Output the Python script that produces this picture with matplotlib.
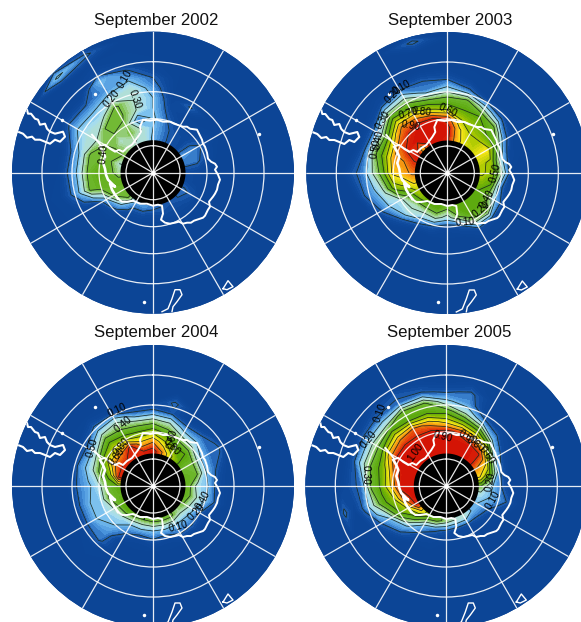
import numpy as np
import matplotlib
matplotlib.use('Agg')
import matplotlib.pyplot as plt
from matplotlib.colors import LinearSegmentedColormap

plt.rcParams['font.family'] = ['Liberation Sans', 'DejaVu Sans']

W, H = 581, 622
RMAX = 141

# azimuth clockwise from the top of each map, one row of values per azimuth
azimuths = np.arange(0, 360, 15)
radii = [35, 45, 55, 65, 75, 85, 95, 105, 115, 125, 135]

field_2002 = [
    [.18, .20, .22, .20, .20, .15, .10, .03],
    [.12, .12, .10, .06, .02],
    [.08, .07, .03, 0, .11],
    [.05, .05, .03],
    [.15, .14, .10, .03],
    [.12, .12, .06],
    [.05, .03],
    [.05, .03],
    [.12, .08],
    [.10, .05],
    [.08, .05],
    [.10, .05],
    [.12, .03],
    [.15, .05],
    [.15, .06],
    [.40, .20, .05],
    [.42, .42, .15],
    [.45, .45, .45, .42, .22, .10, .02],
    [.35, .45, .48, .42, .22, .11],
    [.30, .42, .42, .42, .22, .10],
    [.40, .42, .40, .30, .28, .22, .12, .02],
    [.35, .30, .40, .42, .25, .20, .10, 0, 0, 0, .22],
    [.30, .40, .38, .42, .42, .25, .15, .20, .05, 0, .12],
    [.30, .30, .12, .30, .30, .30, .20, .11, .02],
]
field_2003 = [
    [.93, .95, .85, .55, .42, .22, .08],
    [.75, .72, .60, .50, .42, .12, .02],
    [.65, .60, .55, .50, .25],
    [.62, .60, .50, .42, .12],
    [.68, .70, .45, .15, .02],
    [.62, .58, .25, .03],
    [.62, .55, .30],
    [.55, .50, .12],
    [.50, .42, .20, .03],
    [.50, .48, .40, .03],
    [.50, .50, .35, .05],
    [.50, .40, .08],
    [.42, .25, .03],
    [.50, .35, .10],
    [.50, .32, .15],
    [.55, .32, .28, .10],
    [.60, .42, .25, .22, .11],
    [.72, .62, .55, .32, .18, .11],
    [.82, .76, .72, .45, .30, .13, .08],
    [.88, .80, .78, .55, .38, .11],
    [.95, .92, .84, .60, .32, .10],
    [.75, .95, .90, .80, .55, .30, .05],
    [.95, .95, .95, .76, .50, .32, .11],
    [.95, .95, .95, .62, .42, .14, .10, 0, 0, 0, .12],
]
field_2004 = [
    [.95, .78, .55, .35, .12],
    [.80, .62, .45, .30, .08, .12],
    [.62, .50, .35, .15],
    [.52, .50, .30, .15, .05],
    [.42, .42, .20, .12, .12],
    [.45, .42, .20, .10, .02],
    [.45, .25, .20, .05],
    [.45, .30, .20, .08],
    [.40, .24, .08],
    [.35, .20, .10],
    [.42, .20, .10],
    [.42, .20, .03],
    [.42, .20, .08],
    [.40, .20, .03],
    [.42, .20, .10],
    [.48, .25, .20, .15, .12, .02],
    [.50, .30, .22, .20, .11],
    [.45, .42, .22, .20, .11],
    [.50, .42, .25, .18, .12],
    [.92, .55, .42, .25, .15],
    [.92, .78, .55, .30, .12, .02],
    [.92, .80, .60, .45, .25, .08],
    [.92, .92, .55, .40, .28, .03],
    [.92, .72, .52, .35, .12],
]
field_2005 = [
    [.95, .95, .92, .65, .45, .22, .08],
    [.95, .95, .88, .55, .30, .15, .12, .03],
    [.95, .95, .78, .45, .12],
    [.93, .92, .65, .20, .05],
    [.80, .72, .25, .05],
    [.70, .50, .12],
    [.40, .22, .10],
    [.25, .20, .15, .08],
    [.20, .12, .03],
    [.20, .08],
    [.30, .05],
    [.30, .05],
    [.35, .08],
    [.45, .12, .03],
    [.50, .20, .08],
    [.70, .45, .22, .10],
    [.92, .60, .48, .20, .10, .02],
    [.95, .82, .55, .48, .30, .12, .02, .12],
    [.95, .95, .72, .52, .42, .12, .08],
    [.95, .95, .80, .55, .45, .30, .10],
    [.95, .95, .95, .75, .45, .30, .12],
    [.95, .95, .95, .80, .55, .30, .12, .05],
    [.95, .95, .92, .85, .50, .45, .12, .08],
    [.95, .95, .95, .75, .50, .42, .12, .03],
]
fields = [field_2002, field_2003, field_2004, field_2005]
titles = ['September 2002', 'September 2003', 'September 2004', 'September 2005']

# map centres and title centres, in pixels
centres = [(153, 172.7), (447.3, 173), (153, 486), (446.3, 486)]
title_pos = [(156, 20), (450, 20), (156, 332), (449, 332)]

levels = [.1, .2, .3, .4, .5, .6, .7, .8, .9]
ring_r = [27, 54, 81, 111]
spokes = np.arange(0, 360, 30)
hole_r = 32.5

colors = [(0, '#0c4596'), (.06, '#0f4a9d'), (.1, '#1d5cb0'), (.15, '#4a94dc'), (.2, '#74bcee'),
          (.25, '#a6dcef'), (.3, '#b2e0d2'), (.35, '#a5d69a'), (.4, '#74bc38'), (.5, '#5aa80a'),
          (.6, '#a8c800'), (.7, '#ffe81a'), (.8, '#f59010'), (.9, '#dd2a0a'), (1, '#cc0000')]
cmap = LinearSegmentedColormap.from_list('ice', colors)

# coastline, offsets from the pole in pixels
coast_x = [-35, -31, -26, -20, -13, -6, 0, 5, 9, 10, 8, 12, 17, 22, 26, 30, 34, 38, 41, 47, 50, 52, 55,
           57, 56, 60, 62, 64, 65, 67, 65, 62, 64, 62, 58, 55, 54, 52, 50, 49, 47, 44, 37, 34, 30, 24, 21,
           17, 10, 4, -3, -10, -13, -12, -15, -18, -21, -26, -30, -34, -38, -43, -48, -52, -55, -61]
coast_y = [-26, -29, -29, -28, -31, -31, -33, -32, -33, -41, -47, -50, -51, -50, -49, -51, -50, -50, -48, -46,
           -45, -43, -37, -34, -29, -24, -21, -17, -12, -7, -2, 3, 6, 9, 11, 14, 20, 26, 29, 33, 37, 43, 44,
           46, 46, 48, 49, 51, 51, 53, 52, 53, 46, 41, 36, 32, 28, 25, 21, 23, 21, 24, 28, 27, 31, 38]
branch_x = [-53, -50, -48, -50, -48, -47, -45, -38, -43, -41, -38, -35]
branch_y = [26, 21, 16, 10, 4, -2, -7, -14, -11, -17, -22, -26]
island_x = [-126, -125, -122, -118, -115, -113, -108, -106, -103, -98, -90, -88, -93, -98, -103, -108, -113,
            -118, -121, -126, -130, -135]
island_y = [63, 59, 59, 54, 53, 48, 49, 44, 41, 39, 41, 36, 31, 33, 29, 31, 33, 33, 36, 35, 39, 41]
south_x = [9, 15, 19, 22, 27, 29, 24, 20, 19]
south_y = [-139, -136, -126, -117, -117, -122, -129, -134, -139]
loop_x = [70, 75, 80, 74, 70]
loop_y = [-116, -108, -114, -117, -116]
dots_x = [-91, -58, 106, -9]
dots_y = [53, 79, 39, -129]

# contour labels: text, offset from the pole in pixels, rotation
labels_2002 = [('0.20', -41, 74, 50), ('0.10', -28, 94, 60), ('0.30', -18, 73, -70), ('0.40', -50, 19, 85)]
labels_2003 = [('0.10', -46, 86, 30), ('0.20', -54, 78, 45), ('0.30', -64, 53, 60), ('0.40', -69, 33, 80),
               ('0.50', -72, 24, 80), ('0.70', -39, 59, 15), ('0.80', -26, 61, -5), ('0.90', -36, 47, -10),
               ('0.60', 0, 63, -25), ('0.50', 48, 0, 75), ('0.40', 40, -26, 60), ('0.20', 34, -36, 40),
               ('0.10', 18, -49, 5)]
labels_2004 = [('0.10', -36, 76, 25), ('0.40', -30, 62, 40), ('0.50', -61, 38, 75), ('0.80', -31, 39, 50),
               ('0.60', -36, 29, 50), ('0.60', 19, 47, 80), ('0.80', 19, 39, -45), ('0.40', 50, -14, 60),
               ('0.20', 43, -26, 45), ('0.10', 25, -41, 15)]
labels_2005 = [('0.10', -66, 73, 70), ('0.20', -78, 46, 50), ('0.30', -81, 11, -90), ('1.00', -31, 34, 55),
               ('0.90', -3, 49, -15), ('0.60', 21, 49, -30), ('0.80', 29, 42, -35), ('0.60', 40, 31, -55),
               ('0.20', 44, 4, 80), ('0.10', 47, -14, 60)]
labels = [labels_2002, labels_2003, labels_2004, labels_2005]


def to_polar(x, y):
    x = np.asarray(x, float)
    y = np.asarray(y, float)
    return np.arctan2(x, y), np.hypot(x, y)


def grid_field(rows):
    # rows stop at their last non zero value, further out is zero, the first ring runs in under the hole
    z = np.zeros((len(azimuths), len(radii) + 2))
    for i, row in enumerate(rows):
        z[i, 1:len(row) + 1] = row
        z[i, 0] = row[0]
    return np.vstack([z, z[:1]])


fig = plt.figure(figsize=(W / 100, H / 100), dpi=100)
t = np.deg2rad(np.append(azimuths, 360))
r = np.array([28] + radii + [RMAX + 4])

for rows, title, (cx, cy), (tx, ty), labs in zip(fields, titles, centres, title_pos, labels):
    ax = fig.add_axes([(cx - RMAX) / W, 1 - (cy + RMAX) / H, 2 * RMAX / W, 2 * RMAX / H], projection='polar')
    ax.set_theta_zero_location('N')
    ax.set_theta_direction(-1)
    ax.set_facecolor(colors[0][1])
    z = grid_field(rows)
    ax.contourf(t, r, z.T, levels=np.linspace(0, 1, 51), cmap=cmap, vmin=0, vmax=1, extend='both', zorder=1)
    ax.contour(t, r, z.T, levels=levels, colors='#1a2a20', linewidths=0.55, zorder=1.5)
    ax.fill(np.linspace(0, 2 * np.pi, 200), np.full(200, hole_r), color='black', lw=0, zorder=2)

    ax.set_ylim(0, RMAX)
    ax.set_rticks(ring_r)
    ax.set_thetagrids(spokes)
    ax.set_xticklabels([])
    ax.set_yticklabels([])
    ax.tick_params(length=0)
    ax.set_axisbelow(False)
    ax.grid(True, color='white', lw=0.9, alpha=0.9)
    ax.spines['polar'].set_visible(False)

    for xs, ys, lw in [(coast_x, coast_y, 1.4), (branch_x, branch_y, 1.9), (island_x, island_y, 1.5),
                       (south_x, south_y, 1.0), (loop_x, loop_y, 1.0)]:
        th, rr = to_polar(xs, ys)
        ax.plot(th, rr, color='white', lw=lw, zorder=3, solid_joinstyle='round')
    th, rr = to_polar(dots_x, dots_y)
    ax.plot(th, rr, 'o', color='white', ms=2.5, mew=0, zorder=3)
    ax.plot([0], [0], 'o', color='white', ms=3.5, mew=0, zorder=3)

    for text, dx, dy, rot in labs:
        th, rr = to_polar(dx, dy)
        ax.text(th, rr, text, fontsize=7.3, rotation=rot, ha='center', va='center', color='black', zorder=4)

    fig.text(tx / W, 1 - ty / H, title, fontsize=12.1, ha='center', va='center', color='#111111')

fig.savefig('out.png', dpi=100)
